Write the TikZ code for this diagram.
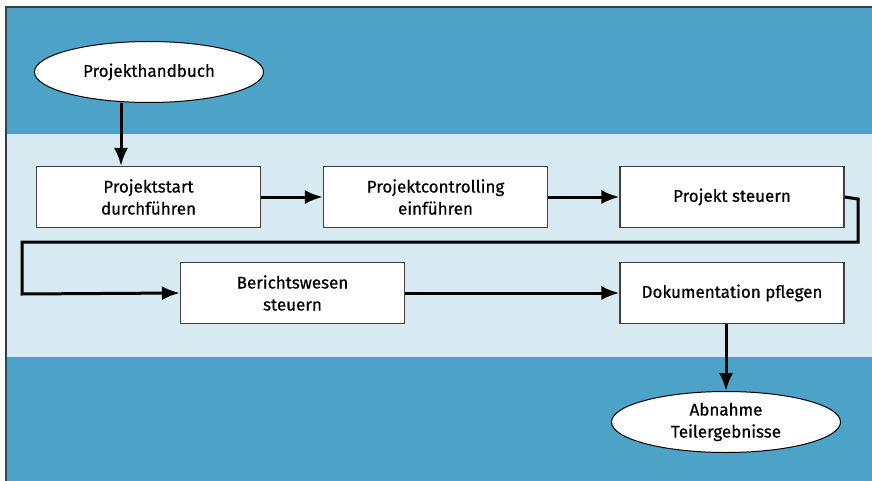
\documentclass[tikz,border=0pt]{standalone}
\usepackage{fontspec}
\setmainfont{Fira Sans}[FakeBold=0.6]
\usetikzlibrary{shapes.geometric,arrows.meta}
\definecolor{darkband}{HTML}{4DA3C7}
\definecolor{lightband}{HTML}{D7EAF2}
\definecolor{frame}{HTML}{33404A}
\begin{document}
\begin{tikzpicture}[x=1pt,y=-1pt,
  stepbox/.style={draw=black!75,line width=1.1pt,fill=white,minimum width=224pt,minimum height=61pt,align=center,font=\fontsize{17}{22}\selectfont,inner sep=0pt},
  ovalbox/.style={ellipse,draw=black,line width=1pt,fill=white,minimum width=229pt,minimum height=61pt,align=center,font=\fontsize{17}{22}\selectfont,inner sep=0pt},
  conn/.style={line width=3pt,-{Latex[length=18pt,width=14pt]}}]
\useasboundingbox (0,0) rectangle (872,481);
\fill[white] (0,0) rectangle (872,481);
\fill[darkband] (5,6) rectangle (872,481);
\fill[lightband] (5,134) rectangle (872,357);
\draw[frame,line width=1.6pt] (5.8,481) -- (5.8,6.8) -- (872,6.8);
\node[ovalbox] (hb) at (149,72) {Projekthandbuch};
\node[stepbox] (s1) at (148.5,197) {Projektstart\\durchführen};
\node[stepbox] (s2) at (435.5,197) {Projektcontrolling\\einführen};
\node[stepbox] (s3) at (732,197) {Projekt steuern};
\node[stepbox] (s4) at (292.5,293) {Berichtswesen\\steuern};
\node[stepbox] (s5) at (732,293) {Dokumentation pflegen};
\node[ovalbox] (ab) at (726,422) {Abnahme\\Teilergebnisse};
\coordinate (c1) at (858,199);
\coordinate (c2) at (858,242);
\coordinate (c3) at (22,242);
\coordinate (c4) at (22,294);
\draw[conn] (hb.south -| 121,0) -- (121,166);
\draw[conn] (s1.east) -- (s2.west);
\draw[conn] (s2.east) -- (s3.west);
\draw[conn] (s3.east) -- (c1) -- (c2) -- (c3) -- (c4) -- (s4.west);
\draw[conn] (s4.east) -- (s5.west);
\draw[conn] (s5.south -| ab.north) -- (ab.north);
\end{tikzpicture}
\end{document}
